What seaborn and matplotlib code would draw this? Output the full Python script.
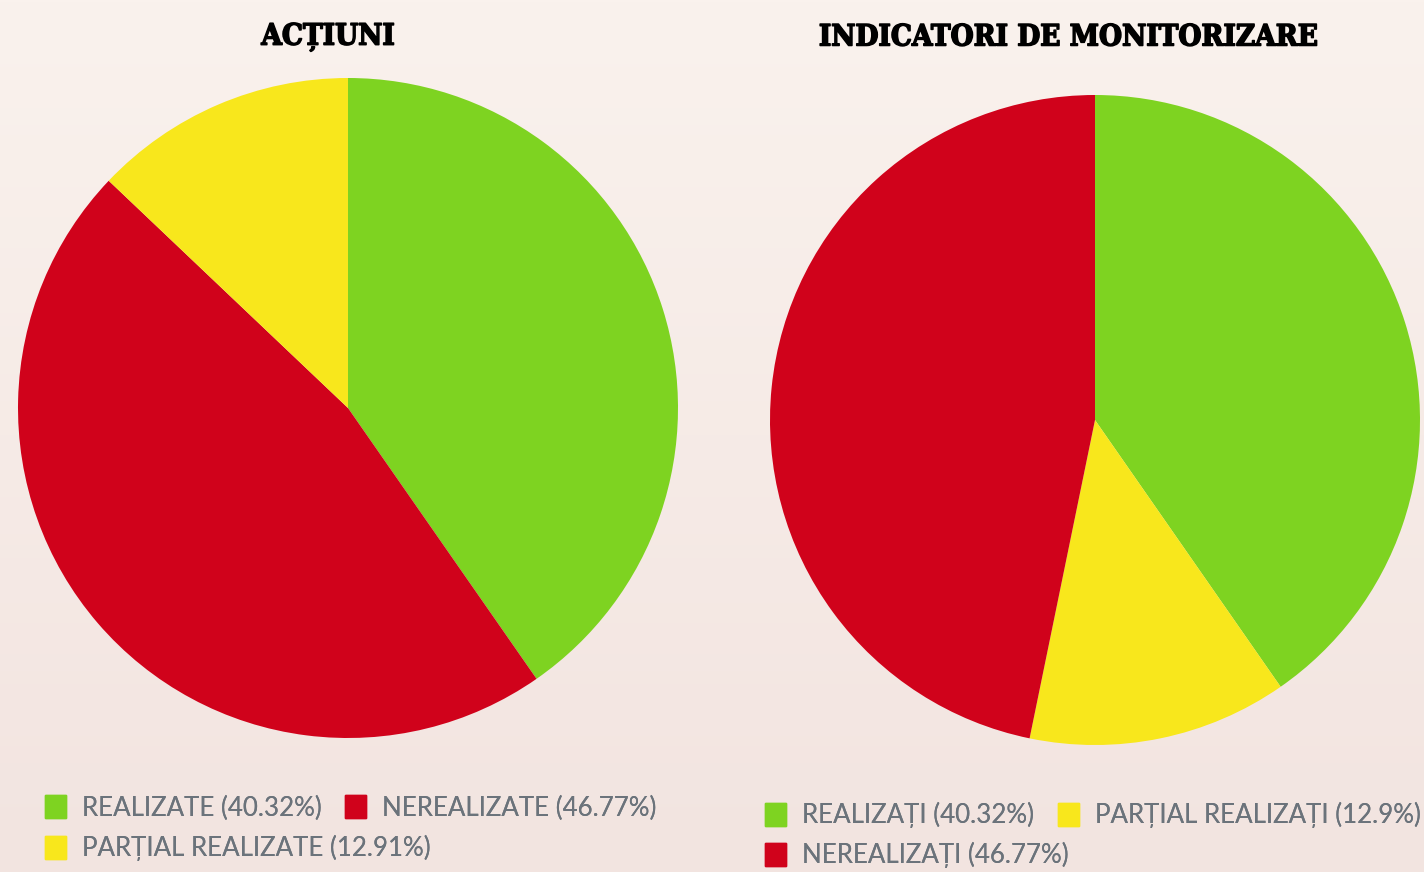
import numpy as np
import pandas as pd
import matplotlib
matplotlib.use("Agg")
import matplotlib.pyplot as plt
import matplotlib.patches as mpatches
import matplotlib.patheffects as pe
import seaborn as sns

# data
actiuni_labels = ["REALIZATE", "NEREALIZATE", "PARȚIAL REALIZATE"]
actiuni_values = [40.32, 46.77, 12.91]
actiuni_colors = ["#7ED321", "#D0021B", "#F8E71C"]

indicatori_labels = ["REALIZAȚI", "PARȚIAL REALIZAȚI", "NEREALIZAȚI"]
indicatori_values = [40.32, 12.9, 46.77]
indicatori_colors = ["#7ED321", "#F8E71C", "#D0021B"]

df_act = pd.DataFrame({"label": actiuni_labels, "value": actiuni_values, "color": actiuni_colors})
df_ind = pd.DataFrame({"label": indicatori_labels, "value": indicatori_values, "color": indicatori_colors})

sns.set_theme(style="white")
plt.rcParams["font.family"] = ["Lato", "DejaVu Sans"]

W, H = 1424, 872
fig = plt.figure(figsize=(W / 100, H / 100), dpi=100)

# background gradient
bg = fig.add_axes([0, 0, 1, 1], zorder=-10)
grad = np.linspace(0, 1, 256).reshape(-1, 1)
top = np.array([250, 242, 237]) / 255
bot = np.array([242, 228, 224]) / 255
img = top + (bot - top) * grad[..., None]
bg.imshow(img, aspect="auto", extent=[0, 1, 0, 1])
bg.axis("off")


def px_axes(cx, cy, r):
    # axes rect from pixel centre/radius (y measured from top)
    return [(cx - r) / W, (H - cy - r) / H, 2 * r / W, 2 * r / H]


def draw_pie(rect, df):
    ax = fig.add_axes(rect)
    ax.pie(df["value"], colors=df["color"], startangle=90, counterclock=False,
           radius=1, wedgeprops=dict(linewidth=0))
    ax.set_xlim(-1, 1)
    ax.set_ylim(-1, 1)
    ax.axis("off")
    return ax


draw_pie(px_axes(348, 408, 330), df_act)
draw_pie(px_axes(1095, 420, 325), df_ind)

title_kw = dict(family=["DejaVu Serif"], weight="bold", fontsize=21.2, ha="center", va="center",
                color="black", stretch="condensed",
                path_effects=[pe.withStroke(linewidth=1.1, foreground="black")])
fig.text(328 / W, 1 - 37 / H, "ACȚIUNI", **title_kw)
fig.text(1068 / W, 1 - 37 / H, "INDICATORI DE MONITORIZARE", **title_kw)


def legend_row(df, idx, x, y):
    handles = [mpatches.Patch(color=df["color"][i],
                              label=f"{df['label'][i]} ({df['value'][i]:g}%)") for i in idx]
    leg = fig.legend(handles=handles, loc="center left", bbox_to_anchor=(x / W, 1 - y / H),
                     ncol=len(handles), frameon=False, fontsize=18.6, borderpad=0, borderaxespad=0,
                     handlelength=0.81, handleheight=1.0, handletextpad=0.62, columnspacing=0.92,
                     labelcolor="#6B737B")
    fig.add_artist(leg)


legend_row(df_act, [0, 1], 45, 808)
legend_row(df_act, [2], 45, 848)
legend_row(df_ind, [0, 1], 765, 815)
legend_row(df_ind, [2], 765, 855)

fig.savefig("out.png", dpi=100)
